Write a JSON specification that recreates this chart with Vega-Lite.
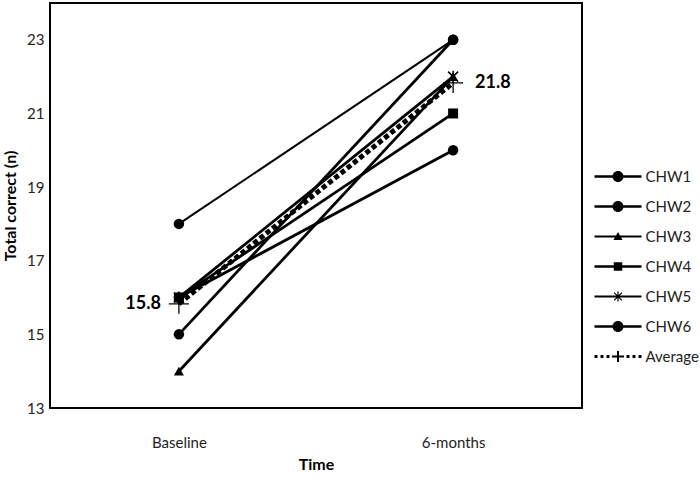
{
  "$schema": "https://vega.github.io/schema/vega-lite/v6.json",
  "width": 532,
  "height": 405,
  "autosize": "none",
  "padding": {"left": 50, "top": 3, "right": 118, "bottom": 77},
  "background": "white",
  "config": {
    "font": "Lato",
    "view": {"stroke": "black", "strokeWidth": 2},
    "axis": {"grid": false, "ticks": false, "domain": false, "labelFontSize": 15, "labelColor": "#222", "titleFontSize": 16, "titleFontWeight": "bold", "titleColor": "black"}
  },
  "data": {
    "values": [
      {"series": "CHW1", "time": "Baseline", "value": 18},
      {"series": "CHW1", "time": "6-months", "value": 23},
      {"series": "CHW2", "time": "Baseline", "value": 15},
      {"series": "CHW2", "time": "6-months", "value": 23},
      {"series": "CHW3", "time": "Baseline", "value": 14},
      {"series": "CHW3", "time": "6-months", "value": 22},
      {"series": "CHW4", "time": "Baseline", "value": 16},
      {"series": "CHW4", "time": "6-months", "value": 21},
      {"series": "CHW5", "time": "Baseline", "value": 16},
      {"series": "CHW5", "time": "6-months", "value": 22},
      {"series": "CHW6", "time": "Baseline", "value": 16},
      {"series": "CHW6", "time": "6-months", "value": 20},
      {"series": "Average", "time": "Baseline", "value": 15.83},
      {"series": "Average", "time": "6-months", "value": 21.83}
    ]
  },
  "encoding": {
    "x": {"field": "time", "type": "nominal", "sort": ["Baseline", "6-months"],
      "scale": {"type": "point", "padding": 0.47},
      "axis": {"title": "Time", "labelAngle": 0, "labelPadding": 27, "titlePadding": 6}},
    "y": {"field": "value", "type": "quantitative",
      "scale": {"domain": [13, 24], "nice": false, "zero": false},
      "axis": {"title": "Total correct (n)", "values": [13, 15, 17, 19, 21, 23], "labelPadding": 6, "titlePadding": 8}}
  },
  "layer": [
    {
      "transform": [{"filter": "datum.series === 'CHW1'"}],
      "mark": {"type": "line", "color": "black", "strokeWidth": 2},
      "encoding": {"detail": {"field": "series"}}
    },
    {
      "transform": [{"filter": "datum.series !== 'CHW1' && datum.series !== 'Average'"}],
      "mark": {"type": "line", "color": "black", "strokeWidth": 2.8},
      "encoding": {"detail": {"field": "series"}}
    },
    {
      "transform": [{"filter": "datum.series === 'CHW1' || datum.series === 'CHW2' || datum.series === 'CHW6'"}],
      "mark": {"type": "point", "shape": "circle", "filled": true, "color": "black", "size": 110, "opacity": 1},
      "encoding": {}
    },
    {
      "transform": [{"filter": "datum.series === 'CHW3'"}],
      "mark": {"type": "point", "shape": "triangle-up", "filled": true, "color": "black", "size": 100, "opacity": 1},
      "encoding": {}
    },
    {
      "transform": [{"filter": "datum.series === 'CHW4'"}],
      "mark": {"type": "point", "shape": "square", "filled": true, "color": "black", "size": 100, "opacity": 1},
      "encoding": {}
    },
    {
      "transform": [{"filter": "datum.series === 'CHW5'"}],
      "mark": {"type": "point", "shape": "M-1,-1L1,1M-1,1L1,-1M0,-1.2V1.2", "filled": false, "color": "black", "strokeWidth": 1.5, "size": 100, "opacity": 1},
      "encoding": {}
    },
    {
      "transform": [{"filter": "false"}],
      "mark": {"type": "point", "filled": true, "color": "black", "opacity": 1},
      "encoding": {
        "shape": {"field": "series", "type": "nominal",
          "scale": {
            "domain": ["CHW1", "CHW2", "CHW3", "CHW4", "CHW5", "CHW6", "Average"],
            "range": [
              "M-4.7,-0.25H4.7V0.25H-4.7ZM-1.1,0A1.1,1.1 0 1,1 1.1,0A1.1,1.1 0 1,1 -1.1,0Z",
              "M-4.7,-0.25H4.7V0.25H-4.7ZM-1.1,0A1.1,1.1 0 1,1 1.1,0A1.1,1.1 0 1,1 -1.1,0Z",
              "M-4.7,-0.2H4.7V0.2H-4.7ZM0,-0.9L0.9,0.7L-0.9,0.7Z",
              "M-4.7,-0.25H4.7V0.25H-4.7ZM-0.85,-0.85H0.85V0.85H-0.85Z",
              "M-4.7,-0.2H4.7V0.2H-4.7ZM-0.12,-1H0.12V1H-0.12ZM-0.69,-0.86L0.86,0.69L0.69,0.86L-0.86,-0.69ZM-0.86,0.69L0.69,-0.86L0.86,-0.69L-0.69,0.86Z",
              "M-4.7,-0.25H4.7V0.25H-4.7ZM-1.1,0A1.1,1.1 0 1,1 1.1,0A1.1,1.1 0 1,1 -1.1,0Z",
              "M-4.7,-0.3H-4.1V0.3H-4.7ZM-3.5,-0.3H-2.9V0.3H-3.5ZM-2.3,-0.3H-1.7V0.3H-2.3ZM1.7,-0.3H2.3V0.3H1.7ZM2.9,-0.3H3.5V0.3H2.9ZM4.1,-0.3H4.7V0.3H4.1ZM-1.2,-0.2H1.2V0.2H-1.2ZM-0.2,-1.1H0.2V1.1H-0.2Z"
            ]
          },
          "legend": {
            "orient": "none", "legendX": 560.5, "legendY": 166, "title": null,
            "labelFontSize": 15, "labelColor": "#222", "symbolSize": 100,
            "symbolStrokeWidth": 0, "symbolFillColor": "black",
            "symbolOpacity": 1, "rowPadding": 14, "labelOffset": 20
          }
        }
      }
    },
    {
      "transform": [{"filter": "datum.series === 'Average'"}],
      "mark": {"type": "line", "color": "black", "strokeWidth": 5, "strokeDash": [5, 3]},
      "encoding": {}
    },
    {
      "transform": [{"filter": "datum.series === 'Average'"}],
      "mark": {"type": "point", "filled": false, "shape": "M-1,0H1M0,-1V1", "stroke": "black", "strokeWidth": 1.3, "size": 400, "opacity": 1},
      "encoding": {}
    },
    {
      "transform": [{"filter": "datum.series === 'Average'"}],
      "mark": {"type": "text", "fontSize": 18, "fontWeight": "bold", "color": "black", "baseline": "middle",
        "align": {"expr": "datum.time === 'Baseline' ? 'right' : 'left'"},
        "dx": {"expr": "datum.time === 'Baseline' ? -18 : 22"}},
      "encoding": {"text": {"field": "value", "type": "quantitative", "format": ".1f"}}
    }
  ]
}
